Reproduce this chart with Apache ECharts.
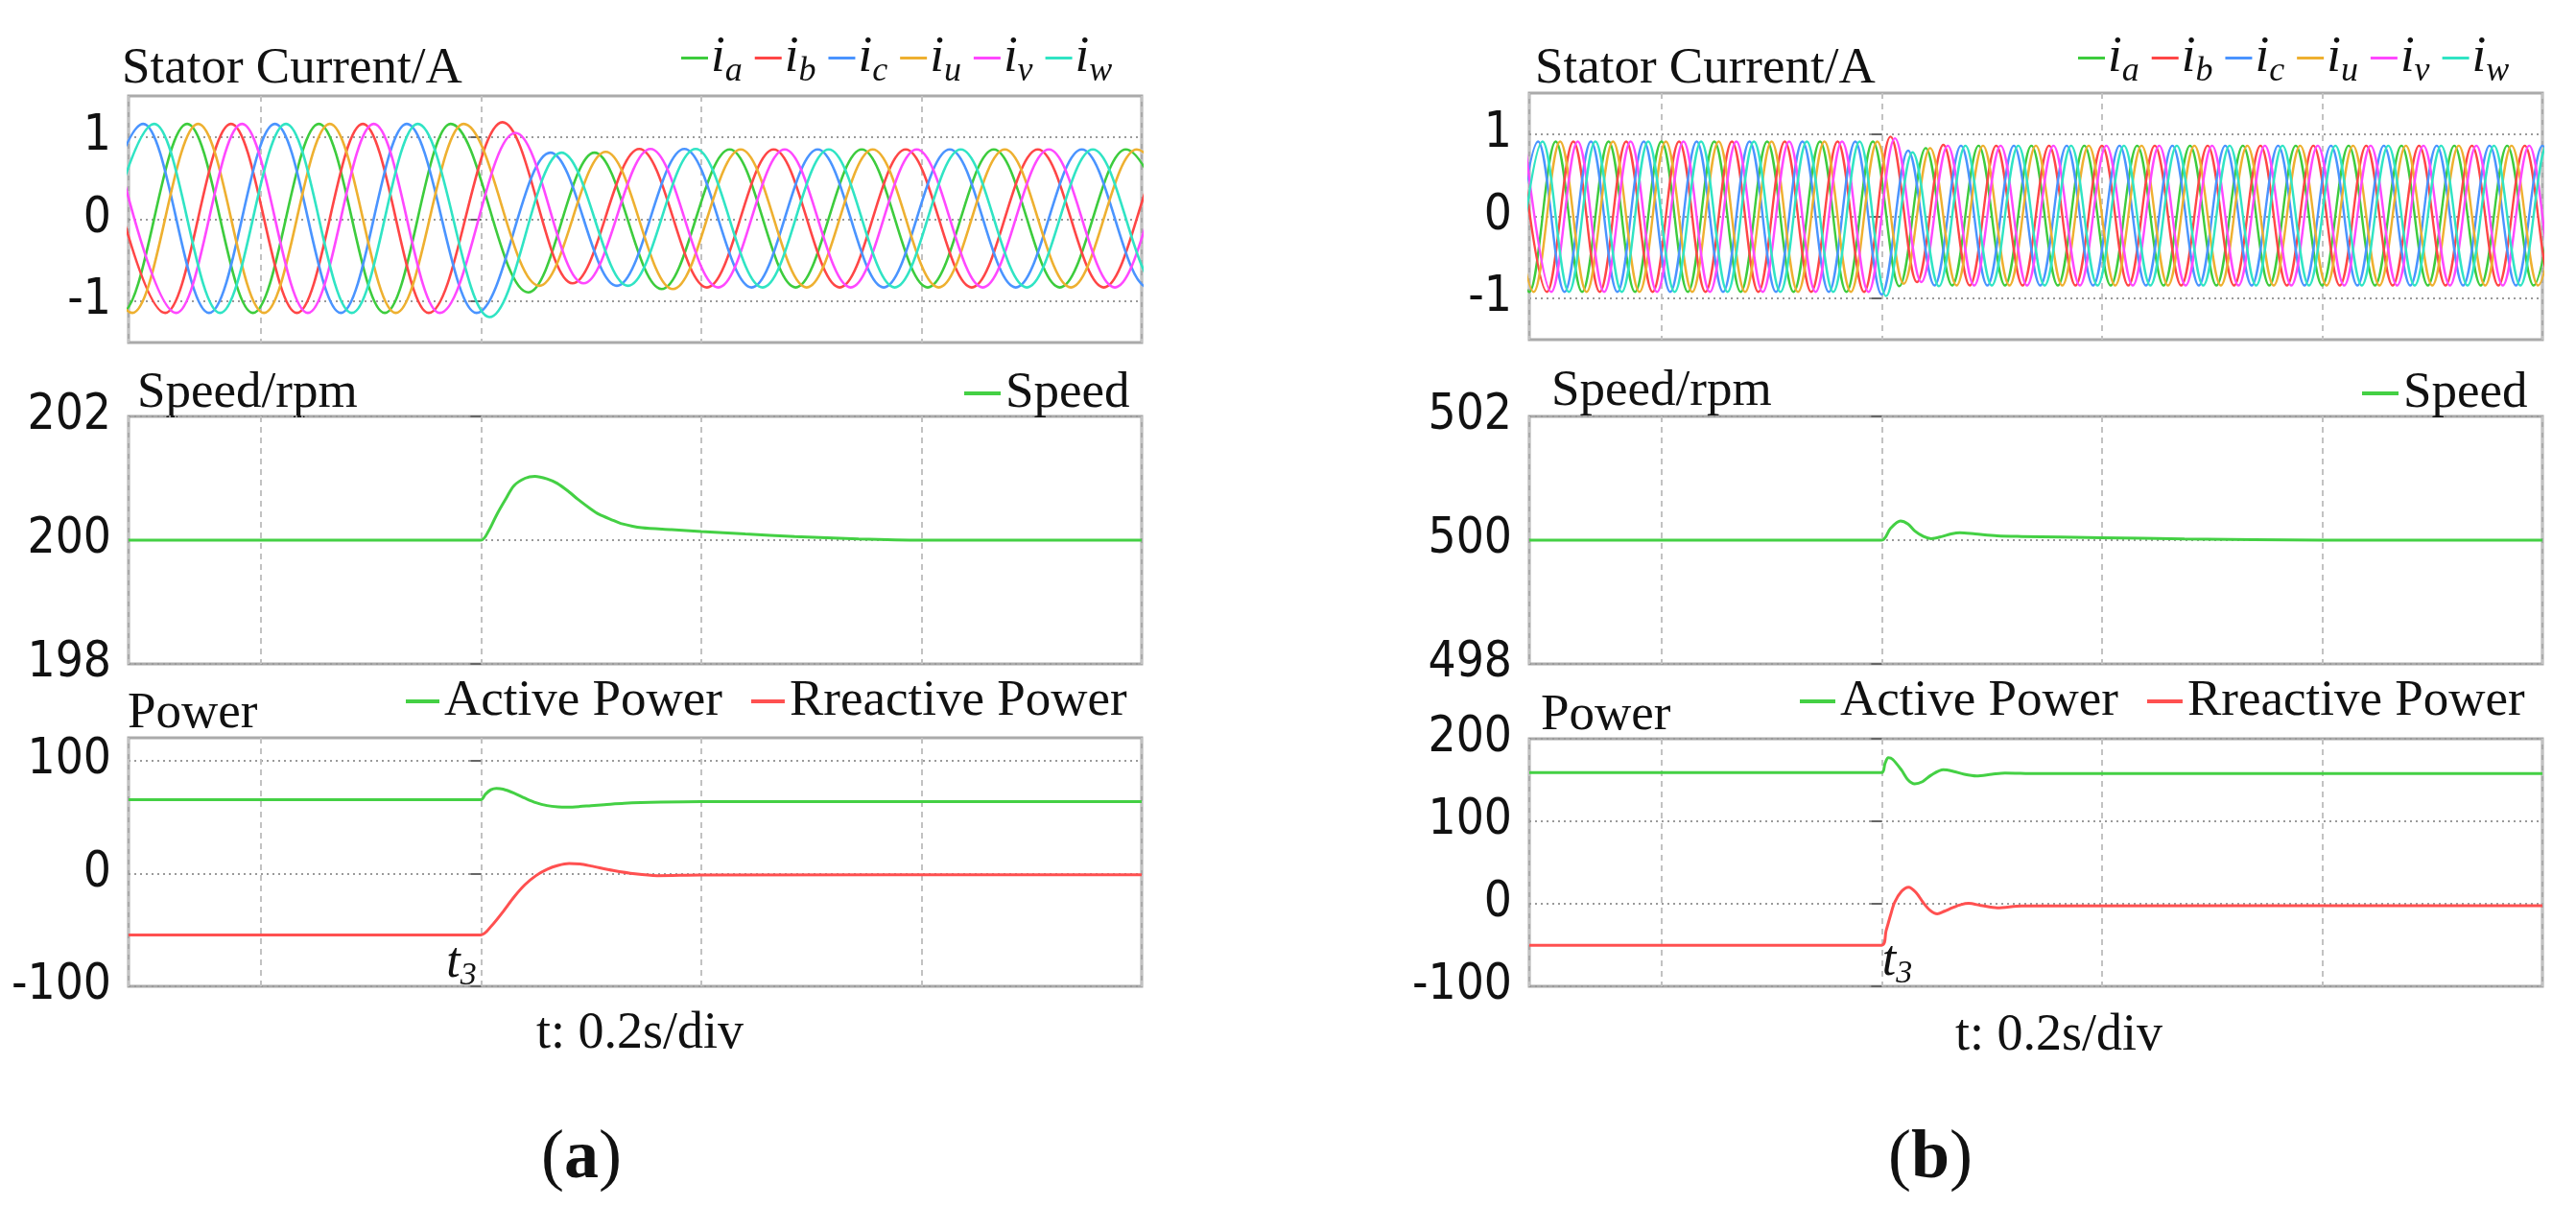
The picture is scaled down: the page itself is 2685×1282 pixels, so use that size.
<!DOCTYPE html>
<html><head><meta charset="utf-8">
<script src="https://cdn.jsdelivr.net/npm/echarts@6/dist/echarts.min.js"></script>
<style>html,body{margin:0;padding:0;background:#fff}#c{width:2685px;height:1282px}</style>
</head><body><div id="c"></div>
<script>
// ---------- data (time in s, t3 = 0) ----------
const phaseNames = ['ia','ib','ic','iu','iv','iw'];
const phaseColors = {ia:'#3dcc3d', ib:'#ff4646', ic:'#4a94ff', iu:'#eeb030', iv:'#ff48ff', iw:'#30e4c4'};
// lag of each phase's extremum after the i_a extremum, in twelfths of a period
const phaseLag = {ia:0, iu:1, ic:2, iw:3, ib:4, iv:5};

// (a) times of successive i_a extrema
const extTimesA = [-0.3865,-0.3266,-0.2668,-0.2070,-0.1472,-0.0873,-0.0275,0.0430,0.1031,0.1641,0.2259,0.2858,0.3458,0.4057,0.4657,0.5257,0.5856,0.6456];
const extA = {
  ia:[1.16,-1.14,1.16,-1.14,1.16,-1.14,1.16,-0.89,0.81,-0.85,0.85,-0.83,0.85,-0.83,0.85,-0.83,0.85,-0.83],
  iu:[1.16,-1.14,1.16,-1.14,1.16,-1.14,1.16,-0.81,0.82,-0.85,0.85,-0.83,0.85,-0.83,0.85,-0.83,0.85,-0.83],
  ic:[-1.14,1.16,-1.14,1.16,-1.14,1.16,-1.14,0.81,-0.81,0.855,-0.83,0.85,-0.83,0.85,-0.83,0.85,-0.83,0.85],
  iw:[-1.14,1.16,-1.14,1.16,-1.14,1.16,-1.19,0.81,-0.81,0.855,-0.83,0.85,-0.83,0.85,-0.83,0.85,-0.83,0.85],
  ib:[1.16,-1.14,1.16,-1.14,1.16,-1.14,1.18,-0.78,0.855,-0.83,0.85,-0.83,0.85,-0.83,0.85,-0.83,0.85,-0.83],
  iv:[1.16,-1.14,1.16,-1.14,1.16,-1.14,1.05,-0.78,0.855,-0.83,0.85,-0.83,0.85,-0.83,0.85,-0.83,0.85,-0.83]
};

// (b) times of successive i_a extrema
const extTimesB = [-0.344,-0.320,-0.296,-0.272,-0.248,-0.224,-0.200,-0.176,-0.152,-0.128,-0.104,-0.080,-0.056,-0.032,-0.008,0.016,0.040,0.064,0.088,0.112,0.136,0.160,0.184,0.208,0.232,0.256,0.280,0.304,0.328,0.352,0.376,0.400,0.424,0.448,0.472,0.496,0.520,0.544,0.568,0.592,0.616];
const extB = {
  ia:[0.91,-0.92,0.91,-0.92,0.91,-0.92,0.91,-0.92,0.91,-0.92,0.91,-0.92,0.91,-0.92, 0.91,-0.85,0.83, -0.84,0.86,-0.84,0.86,-0.84,0.86,-0.84,0.86,-0.84,0.86,-0.84,0.86,-0.84,0.86,-0.84,0.86,-0.84,0.86,-0.84,0.86,-0.84,0.86,-0.84,0.86],
  iu:[0.91,-0.92,0.91,-0.92,0.91,-0.92,0.91,-0.92,0.91,-0.92,0.91,-0.92,0.91,-0.92, 0.91,-0.82,0.83, -0.84,0.86,-0.84,0.86,-0.84,0.86,-0.84,0.86,-0.84,0.86,-0.84,0.86,-0.84,0.86,-0.84,0.86,-0.84,0.86,-0.84,0.86,-0.84,0.86,-0.84,0.86],
  ic:[-0.92,0.91,-0.92,0.91,-0.92,0.91,-0.92,0.91,-0.92,0.91,-0.92,0.91,-0.92,0.91, -0.95,0.80,-0.84, 0.86,-0.84,0.86,-0.84,0.86,-0.84,0.86,-0.84,0.86,-0.84,0.86,-0.84,0.86,-0.84,0.86,-0.84,0.86,-0.84,0.86,-0.84,0.86,-0.84,0.86,-0.84],
  iw:[-0.92,0.91,-0.92,0.91,-0.92,0.91,-0.92,0.91,-0.92,0.91,-0.92,0.91,-0.92,0.91, -0.97,0.78,-0.85, 0.86,-0.84,0.86,-0.84,0.86,-0.84,0.86,-0.84,0.86,-0.84,0.86,-0.84,0.86,-0.84,0.86,-0.84,0.86,-0.84,0.86,-0.84,0.86,-0.84,0.86,-0.84],
  ib:[0.91,-0.92,0.91,-0.92,0.91,-0.92,0.91,-0.92,0.91,-0.92,0.91,-0.92,0.91,-0.92, 0.97,-0.80,0.87, -0.84,0.86,-0.84,0.86,-0.84,0.86,-0.84,0.86,-0.84,0.86,-0.84,0.86,-0.84,0.86,-0.84,0.86,-0.84,0.86,-0.84,0.86,-0.84,0.86,-0.84,0.86],
  iv:[0.91,-0.92,0.91,-0.92,0.91,-0.92,0.91,-0.92,0.91,-0.92,0.91,-0.92,0.91,-0.92, 0.95,-0.80,0.86, -0.84,0.86,-0.84,0.86,-0.84,0.86,-0.84,0.86,-0.84,0.86,-0.84,0.86,-0.84,0.86,-0.84,0.86,-0.84,0.86,-0.84,0.86,-0.84,0.86,-0.84,0.86]
};

const speedA = [[-0.32,200],[0,200],[0.007,200.15],[0.014,200.4],[0.022,200.65],[0.030,200.88],[0.040,201.0],[0.049,201.03],[0.060,200.99],[0.069,200.92],[0.080,200.78],[0.088,200.66],[0.100,200.5],[0.107,200.42],[0.120,200.32],[0.127,200.27],[0.146,200.2],[0.173,200.17],[0.200,200.14],[0.240,200.1],[0.285,200.06],[0.343,200.02],[0.400,200.0],[0.600,200.0]];
const speedB = [[-0.32,500],[0,500],[0.008,500.19],[0.017,500.31],[0.024,500.26],[0.030,500.15],[0.038,500.06],[0.045,500.025],[0.055,500.06],[0.063,500.1],[0.071,500.12],[0.085,500.1],[0.105,500.07],[0.127,500.06],[0.199,500.04],[0.275,500.02],[0.400,500.0],[0.600,500.0]];

const activeA = [[-0.32,65.3],[0,65.3],[0.004,70],[0.009,74],[0.014,75.2],[0.020,74.5],[0.030,71],[0.040,66.5],[0.050,62.5],[0.060,60],[0.070,58.9],[0.079,58.7],[0.090,59.2],[0.100,60],[0.112,60.8],[0.130,62],[0.163,63],[0.200,63.5],[0.600,63.5]];
const reactiveA = [[-0.32,-54.5],[0,-54.5],[0.010,-46],[0.020,-34],[0.030,-21],[0.040,-10],[0.050,-2],[0.060,3.5],[0.070,7],[0.080,8.7],[0.090,8.3],[0.100,6.5],[0.120,2.5],[0.140,-0.5],[0.160,-2],[0.200,-1.5],[0.600,-1.2]];
const activeB = [[-0.32,159],[0,159],[0.003,170],[0.006,177],[0.010,175],[0.018,162],[0.024,150],[0.030,145.4],[0.037,148],[0.045,156],[0.056,162.4],[0.065,160.5],[0.075,157],[0.086,155],[0.100,157],[0.112,158.5],[0.140,157.8],[0.600,157.8]];
const reactiveB = [[-0.32,-50.2],[0,-50.2],[0.004,-32.7],[0.008,-14],[0.0117,1.5],[0.018,15],[0.0244,20],[0.031,14],[0.0377,1.5],[0.044,-8],[0.0505,-12.2],[0.057,-9],[0.064,-4.9],[0.072,-1],[0.079,0.5],[0.090,-2],[0.105,-4.9],[0.127,-2.6],[0.600,-2.4]];

const currentTicks = [-1,0,1];
const speedRangeA = [198,202], speedRangeB = [498,502];
const speedTicksA = [198,200,202], speedTicksB = [498,500,502];
const powerRangeA = [-100,120], powerRangeB = [-100,200];
const powerTicksA = [-100,0,100], powerTicksB = [-100,0,100,200];
const timeRange = [-0.32,0.6];

// ---------- build ----------
function phasePoints(times, vals, lag){
  const pts = [];
  for (let k = 0; k < vals.length; k++){
    const h = (k < times.length-1) ? times[k+1]-times[k] : times[k]-times[k-1];
    pts.push([times[k] + lag*h/6, vals[k]]);
  }
  return pts;
}
const SERIF = "'Liberation Serif','Times New Roman',serif";
const NARROW = "'Liberation Sans Narrow','DejaVu Sans Condensed','Arial Narrow',sans-serif";
const G = {
  A1:{left:134,top:100,width:1056,height:257}, A2:{left:134,top:434,width:1056,height:258}, A3:{left:134,top:769,width:1056,height:259},
  B1:{left:1594,top:97,width:1056,height:257}, B2:{left:1594,top:434,width:1056,height:258}, B3:{left:1594,top:770,width:1056,height:258}
};
const gkeys = ['A1','A2','A3','B1','B2','B3'];
const grids = gkeys.map(k => Object.assign({show:true, borderColor:'#aaaaaa', borderWidth:3, backgroundColor:'rgba(0,0,0,0)'}, G[k]));
const xAxes = gkeys.map((k,i) => ({type:'value', gridIndex:i, min:timeRange[0], max:timeRange[1], minInterval:0.2, maxInterval:0.2,
  axisLine:{show:false}, axisTick:{show:false}, axisLabel:{show:false},
  splitLine:{show:true, lineStyle:{color:'#c2c2c2', width:2, type:[6,5]}}}));
function yAx(i, min, max, ticks, extra){
  return Object.assign({type:'value', gridIndex:i, min:min, max:max,
    axisLine:{show:false},
    axisTick:{show:true, inside:false, length:11, lineStyle:{color:'#666', width:2}, customValues:ticks},
    axisLabel:{show:true, customValues:ticks, margin:18, fontFamily:NARROW, fontSize:51, color:'#111'},
    splitLine:{show:true, lineStyle:{color:'#9a9a9a', width:2, type:[2,4]}}}, extra||{});
}
const yAxes = [
  yAx(0,-1.5,1.5,currentTicks,{minInterval:1,maxInterval:1}),
  yAx(1,speedRangeA[0],speedRangeA[1],speedTicksA,{interval:2}),
  yAx(2,powerRangeA[0],powerRangeA[1],powerTicksA,{interval:100}),
  yAx(3,-1.5,1.5,currentTicks,{minInterval:1,maxInterval:1}),
  yAx(4,speedRangeB[0],speedRangeB[1],speedTicksB,{interval:2}),
  yAx(5,powerRangeB[0],powerRangeB[1],powerTicksB,{interval:100})
];
const series = [];
phaseNames.forEach(n => {
  series.push({name:n, type:'line', xAxisIndex:0, yAxisIndex:0, data:phasePoints(extTimesA, extA[n], phaseLag[n]),
    showSymbol:false, symbol:'none', smooth:0.3634, smoothMonotone:'x', color:phaseColors[n], lineStyle:{width:2.6, color:phaseColors[n]}, animation:false});
  series.push({name:n, type:'line', xAxisIndex:3, yAxisIndex:3, data:phasePoints(extTimesB, extB[n], phaseLag[n]),
    showSymbol:false, symbol:'none', smooth:0.3634, smoothMonotone:'x', color:phaseColors[n], lineStyle:{width:2.4, color:phaseColors[n]}, animation:false});
});
const GREEN = '#44d044', RED = '#ff5050';
function plain(name, xi, data, color, mp){
  const s = {name:name, type:'line', xAxisIndex:xi, yAxisIndex:xi, data:data, showSymbol:false, symbol:'none', smooth:0.3,
    color:color, lineStyle:{width:3, color:color}, animation:false};
  if (mp) s.markPoint = mp;
  return s;
}
const t3rich = {t:{fontFamily:SERIF, fontStyle:'italic', fontSize:52, color:'#111', lineHeight:60, verticalAlign:'middle'},
                s:{fontFamily:SERIF, fontStyle:'italic', fontSize:34, color:'#111', lineHeight:34, verticalAlign:'bottom'}};
series.push(plain('Speed',1,speedA,GREEN));
series.push(plain('Speed',4,speedB,GREEN));
series.push(plain('Active Power',2,activeA,GREEN));
series.push(plain('Rreactive Power',2,reactiveA,RED,{symbol:'circle', symbolSize:1, itemStyle:{color:'rgba(0,0,0,0)'}, silent:true,
  data:[{coord:[0,-80]}], label:{show:true, position:'left', distance:4, formatter:'{t|t}{s|3}', rich:t3rich}}));
series.push(plain('Active Power',5,activeB,GREEN));
series.push(plain('Rreactive Power',5,reactiveB,RED,{symbol:'circle', symbolSize:1, itemStyle:{color:'rgba(0,0,0,0)'}, silent:true,
  data:[{coord:[0,-70]}], label:{show:true, position:'right', distance:0, formatter:'{t|t}{s|3}', rich:t3rich}}));

const legRich = {i:{fontFamily:SERIF, fontStyle:'italic', fontSize:53, color:'#111', lineHeight:64, verticalAlign:'middle'},
                 s:{fontFamily:SERIF, fontStyle:'italic', fontSize:36, color:'#111', lineHeight:36, verticalAlign:'bottom'}};
function curLegend(left, top){
  return {data:phaseNames, left:left, top:top, orient:'horizontal', icon:'rect', itemWidth:28, itemHeight:3, itemGap:13, padding:0,
    selectedMode:false, formatter:n => '{i|i}{s|' + n.slice(1) + '}', textStyle:{rich:legRich, padding:[0,0,0,-2]}};
}
function txtLegend(data, left, top, w){
  return {data:data, left:left, top:top, orient:'horizontal', icon:'rect', itemWidth:w, itemHeight:4, itemGap:30, padding:0,
    selectedMode:false, textStyle:{fontFamily:SERIF, fontSize:53, color:'#111', lineHeight:60}};
}
const legends = [
  curLegend(710, 34), curLegend(2166, 34),
  txtLegend(['Speed'], 1005, 380, 38), txtLegend(['Speed'], 2462, 380, 38),
  txtLegend(['Active Power','Rreactive Power'], 423, 701, 35), txtLegend(['Active Power','Rreactive Power'], 1876, 701, 37)
];
function gtext(text, x, y, opts){
  return {type:'text', x:x, y:y, silent:true, style:Object.assign({text:text, fontFamily:SERIF, fontSize:53, fill:'#111', textAlign:'left', textVerticalAlign:'middle'}, opts||{})};
}
const graphics = [
  gtext('Stator Current/A', 127, 72), gtext('Stator Current/A', 1600, 72),
  gtext('Speed/rpm', 143, 410), gtext('Speed/rpm', 1617, 408),
  gtext('Power', 133, 744), gtext('Power', 1606, 746),
  gtext('t: 0.2s/div', 667, 1078, {textAlign:'center', fontSize:54}),
  gtext('t: 0.2s/div', 2146, 1080, {textAlign:'center', fontSize:54}),
  {type:'text', x:606, y:1208, silent:true, style:{text:'{p|(}{b|a}{p|)}', textAlign:'center', textVerticalAlign:'middle',
    rich:{p:{fontFamily:SERIF, fontSize:72, fill:'#111'}, b:{fontFamily:SERIF, fontSize:72, fontWeight:'bold', fill:'#111'}}}},
  {type:'text', x:2012, y:1208, silent:true, style:{text:'{p|(}{b|b}{p|)}', textAlign:'center', textVerticalAlign:'middle',
    rich:{p:{fontFamily:SERIF, fontSize:72, fill:'#111'}, b:{fontFamily:SERIF, fontSize:72, fontWeight:'bold', fill:'#111'}}}}
];
const chart = echarts.init(document.getElementById('c'), null, {renderer:'canvas'});
chart.setOption({animation:false, backgroundColor:'#ffffff', grid:grids, xAxis:xAxes, yAxis:yAxes, series:series, legend:legends, graphic:graphics});
</script></body></html>
